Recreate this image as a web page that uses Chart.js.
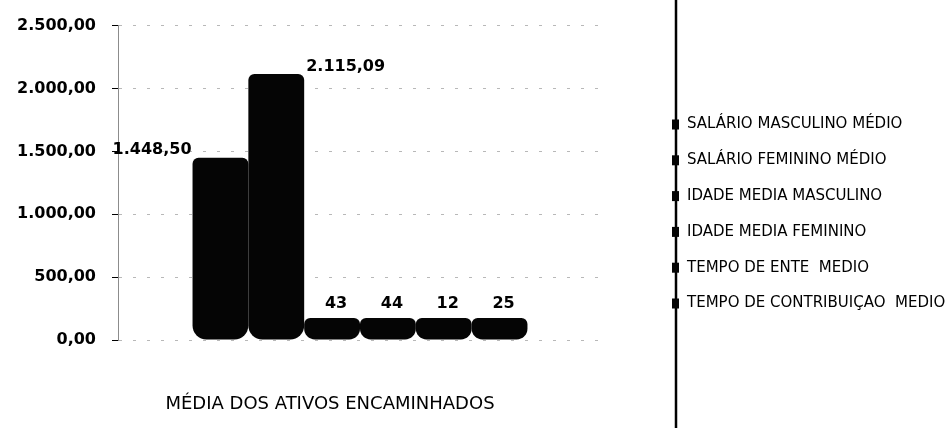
<!DOCTYPE html>
<html>
<head>
<meta charset="utf-8">
<script src="https://cdn.jsdelivr.net/npm/chart.js@4.4.1/dist/chart.umd.min.js"></script>
<style>
  html, body { margin: 0; padding: 0; background: #ffffff; }
  #wrap { width: 952px; height: 428px; position: relative; }
</style>
</head>
<body>
<div id="wrap"><canvas id="c"></canvas></div>
<script>
// ---- data ----
const categories = ['MÉDIA DOS ATIVOS ENCAMINHADOS'];
const seriesNames = [
  'SALÁRIO MASCULINO MÉDIO',
  'SALÁRIO FEMININO MÉDIO',
  'IDADE MEDIA MASCULINO',
  'IDADE MEDIA FEMININO',
  'TEMPO DE ENTE  MEDIO',
  'TEMPO DE CONTRIBUIÇAO  MEDIO'
];
const seriesValues = [1448.50, 2115.09, 43, 44, 12, 25];
const yTicks = [0, 500, 1000, 1500, 2000, 2500];

// ---- helpers ----
function fmtBR(n, dec) {
  const parts = n.toFixed(dec).split('.');
  parts[0] = parts[0].replace(/\B(?=(\d{3})+(?!\d))/g, '.');
  return parts.join(',');
}
function labelFor(v) {
  return Number.isInteger(v) ? String(v) : fmtBR(v, 2);
}

const FONT = "'DejaVu Sans', sans-serif";

const datasets = seriesNames.map((name, i) => ({
  label: name,
  data: [seriesValues[i]],
  backgroundColor: '#050505',
  borderWidth: 0,
  borderSkipped: false,
  borderRadius: { topLeft: 6, topRight: 6, bottomLeft: 14, bottomRight: 14 },
  minBarLength: 22,
  barPercentage: 1.0,
  categoryPercentage: 0.692
}));

// data labels
const dataLabelPlugin = {
  id: 'dataLabels',
  afterDatasetsDraw(chart) {
    const ctx = chart.ctx;
    ctx.save();
    ctx.fillStyle = '#000';
    ctx.font = 'bold 16px ' + FONT;
    ctx.textBaseline = 'middle';
    chart.data.datasets.forEach((ds, i) => {
      const el = chart.getDatasetMeta(i).data[0];
      if (!el) return;
      const txt = labelFor(ds.data[0]);
      const left = el.x - el.width / 2, right = el.x + el.width / 2;
      if (i === 0) {
        ctx.textAlign = 'right';
        ctx.fillText(txt, left - 1, el.y - 8);
      } else if (i === 1) {
        ctx.textAlign = 'left';
        ctx.fillText(txt, right + 2, el.y - 7);
      } else {
        ctx.textAlign = 'center';
        ctx.fillText(txt, el.x + 4, el.y - 14);
      }
    });
    ctx.restore();
  }
};

// legend drawn on the right, with vertical separator line
const sideLegendPlugin = {
  id: 'sideLegend',
  afterDraw(chart) {
    const ctx = chart.ctx;
    const lineX = 676;
    ctx.save();
    ctx.strokeStyle = '#000';
    ctx.lineWidth = 2.5;
    ctx.beginPath();
    ctx.moveTo(lineX, 0);
    ctx.lineTo(lineX, chart.height);
    ctx.stroke();

    const n = chart.data.datasets.length;
    const gap = 35.8;
    const startY = chart.height / 2 - gap * (n - 1) / 2;
    ctx.font = '15px ' + FONT;
    ctx.textBaseline = 'middle';
    ctx.textAlign = 'left';
    chart.data.datasets.forEach((ds, i) => {
      const y = startY + i * gap;
      ctx.fillStyle = ds.backgroundColor;
      ctx.fillRect(lineX - 4, y - 5, 7, 10);
      ctx.fillStyle = '#000';
      ctx.fillText(ds.label, 687, y);
    });
    ctx.restore();
  }
};

new Chart(document.getElementById('c'), {
  type: 'bar',
  data: { labels: categories, datasets },
  options: {
    responsive: true,
    maintainAspectRatio: false,
    animation: false,
    layout: { padding: { top: 21, right: 350, bottom: 12, left: 0 } },
    plugins: {
      legend: { display: false },
      tooltip: { enabled: false }
    },
    scales: {
      x: {
        afterFit(scale) { scale.height = 76; },
        grid: { display: false, drawTicks: false },
        border: { display: false },
        ticks: {
          color: '#000',
          font: { family: FONT, size: 18 },
          padding: 54,
          labelOffset: -30,
          maxRotation: 0,
          minRotation: 0
        }
      },
      y: {
        min: 0,
        max: 2500,
        afterFit(scale) { scale.width = 118; },
        afterBuildTicks(scale) { scale.ticks = yTicks.map(v => ({ value: v })); },
        grid: {
          color: 'rgba(0,0,0,0.28)',
          lineWidth: 1,
          tickColor: '#000',
          tickLength: 6,
          drawTicks: true
        },
        border: { display: true, color: 'rgba(0,0,0,0.45)', width: 1, dash: [3, 11] },
        ticks: {
          color: '#000',
          font: { family: FONT, size: 16, weight: 'bold' },
          padding: 16,
          callback: (v) => fmtBR(v, 2)
        }
      }
    }
  },
  plugins: [dataLabelPlugin, sideLegendPlugin]
});
</script>
</body>
</html>
